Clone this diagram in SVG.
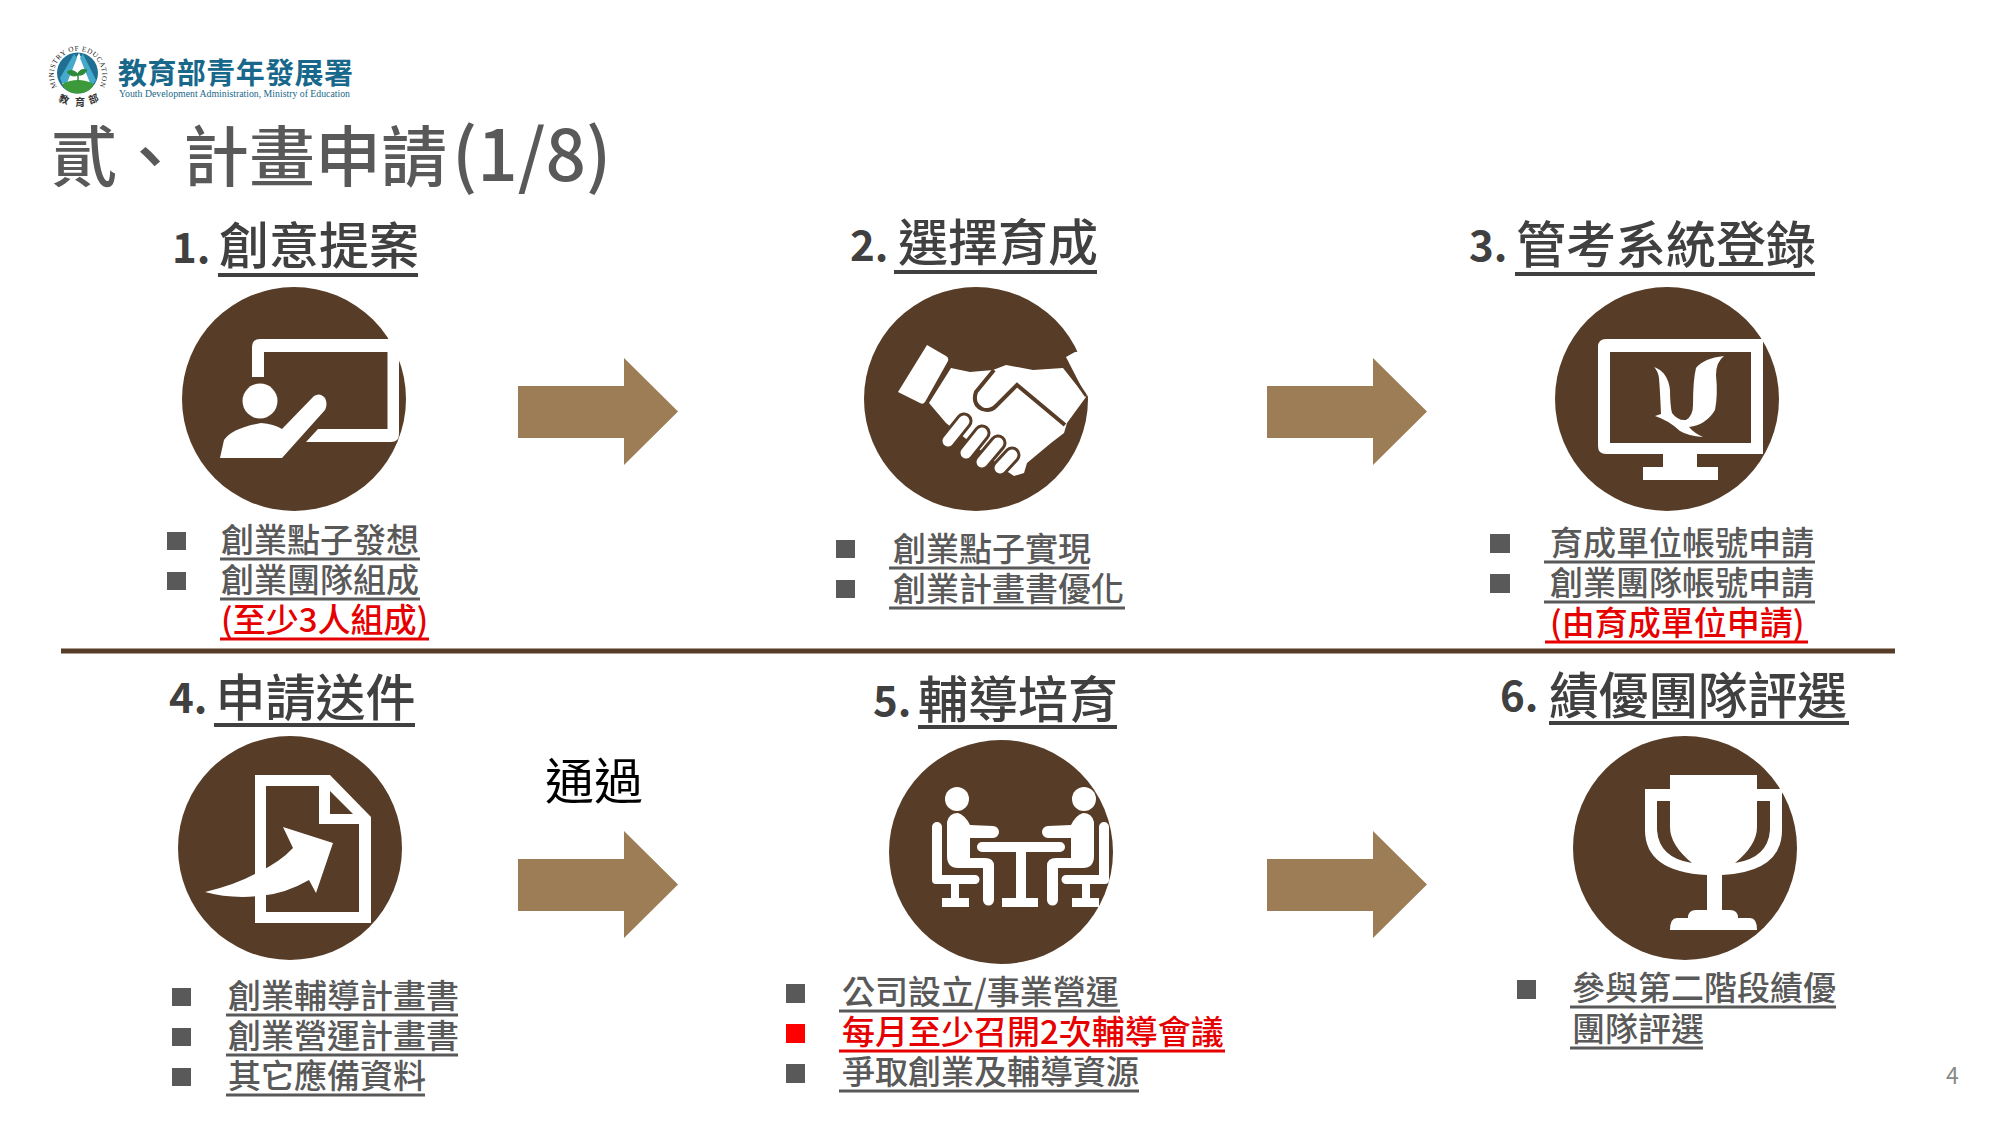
<svg xmlns="http://www.w3.org/2000/svg" xmlns:xlink="http://www.w3.org/1999/xlink" width="2000" height="1125" viewBox="0 0 2000 1125">
<style>
text{font-family:"Noto Sans CJK TC","Noto Sans",sans-serif}
.title{font-size:66px;font-weight:500;fill:#595959}
.num{font-size:42px;font-weight:700;fill:#404040}
.hd{font-size:50px;font-weight:500;fill:#404040}
.it{font-size:33px;font-weight:500;fill:#595959}
.red{font-size:33px;font-weight:500;fill:#e60000}
.c{fill:#573c27}
.w{fill:#fff}
.b{fill:#595959}
.uh{stroke:#404040;stroke-width:4}
.ug{stroke:#595959;stroke-width:3}
.ur{stroke:#e60000;stroke-width:3}
.ar{fill:#9c7d55}
</style>
<defs>
<path id="ringTop" d="M57 87A24.200 24.200 0 1 1 99 87"/>
</defs>
<rect width="2000" height="1125" fill="#fff"/>
<g id="logo">
<circle cx="77.500" cy="73" r="20.500" fill="#1f6f93"/>
<path d="M79 53L93 83L90 88H65L62 83Z" fill="#fff"/>
<path d="M74 54L77 58L67 83H62L60 78Z M83 54L80 58L90 83H94L96 80Z" fill="#45a9cc"/>
<path d="M62 84Q78 76 94 84Q90 93.500 77.500 93.500Q66 93.500 62 84Z" fill="#3d9a3a"/>
<path d="M78 82V74Q72 68 67 72Q72 78 78 75Q84 76 87 70Q81 68 78 73Z" fill="#2e8a3a" stroke="#2e8a3a"/>
<text font-size="7.200" fill="#222" textLength="100" style="font-family:'Liberation Serif',serif"><textPath xlink:href="#ringTop">MINISTRY OF EDUCATION</textPath></text>
<text transform="translate(58,101) rotate(20)" font-size="10" font-weight="700" fill="#333">教</text>
<text transform="translate(75,106)" font-size="10" font-weight="700" fill="#333">育</text>
<text transform="translate(90,104) rotate(-20)" font-size="10" font-weight="700" fill="#333">部</text>
<text x="118" y="84" font-size="29" font-weight="700" fill="#17688a" textLength="235">教育部青年發展署</text>
<text x="119" y="97" font-size="11" fill="#17688a" textLength="231" lengthAdjust="spacingAndGlyphs" style="font-family:'Liberation Serif',serif">Youth Development Administration, Ministry of Education</text>
</g>
<text id="title" class="title" x="51" y="181">貳、計畫申請<tspan x="452" font-size="71">(1/8)</tspan></text>
<line id="divider" x1="61" y1="651" x2="1895" y2="651" stroke="#573c27" stroke-width="5"/>
<g id="connectors">
<polygon class="ar" points="518,386 624,386 624,358 678,411.500 624,465 624,438 518,438"/>
<polygon class="ar" points="1267,386 1373,386 1373,358 1427,411.500 1373,465 1373,438 1267,438"/>
<polygon class="ar" points="518,859 624,859 624,831 678,884.500 624,938 624,911 518,911"/>
<polygon class="ar" points="1267,859 1373,859 1373,831 1427,884.500 1373,938 1373,911 1267,911"/>
</g>
<text id="pass-label" x="545" y="799" font-size="49" fill="#000">通過</text>
<g id="node1">
<text class="num" x="172" y="263">1.</text>
<text class="hd" x="219" y="264">創意提案</text>
<line class="uh" x1="218" y1="275" x2="418" y2="275"/>
<circle class="c" cx="294" cy="399" r="112"/>
<path class="w" d="M252 377V347q0-8 8-8H399V434q0 8-8 8H306L318 429H387.500V352H264V377Z"/>
<circle class="w" cx="260" cy="401" r="17.500"/>
<path class="w" d="M220 458L224 440Q232 428 261 423Q274 424 282 429L314 396Q320 392 325 398Q328 404 325 410L282 458Z"/>
<rect class="b" x="167" y="532" width="19" height="18"/>
<rect class="b" x="167" y="572" width="19" height="18"/>
<text class="it" x="221" y="552">創業點子發想</text>
<line class="ug" x1="220" y1="559" x2="420" y2="559"/>
<text class="it" x="221" y="592">創業團隊組成</text>
<line class="ug" x1="220" y1="599" x2="420" y2="599"/>
<text class="red" x="221" y="632">(至少3人組成)</text>
<line class="ur" x1="220" y1="639" x2="429" y2="639"/>
</g>
<g id="node2">
<text class="num" x="850" y="261">2.</text>
<text class="hd" x="898" y="261">選擇育成</text>
<line class="uh" x1="894" y1="272" x2="1097" y2="272"/>
<circle class="c" cx="976" cy="399" r="112"/>
<path class="w" d="M927 345L946 356Q949 358 948 361L925 402Q923 405 920 403L898 392Z"/>
<path class="w" d="M929 403L951 368L970 372L993 370L1006 365L1033 370L1063 368L1086 397L1067 423L1064 433L1051 443L1039 453L1027 463L1024 473L1014 476L1008 472L946 423Z"/>
<path class="w" d="M1075 352L1066 357L1086 396L1112 390L1100 350Z"/>
<path d="M1063 362L1086 396" stroke="#573c27" stroke-width="3" fill="none"/>
<path d="M994 370L976 392Q972 404 982 409Q990 412 996 406L1017 385L1065 425" stroke="#573c27" stroke-width="4" fill="none"/>
<g fill="none" stroke-linecap="round">
<path d="M964 421L948 441M982 433L966 453M998 443L982 462M1012 455L1000 468" stroke="#573c27" stroke-width="17"/>
<path d="M964 421L948 441M982 433L966 453M998 443L982 462M1012 455L1000 468" stroke="#fff" stroke-width="11"/>
</g>
<rect class="b" x="836" y="540" width="19" height="18"/>
<rect class="b" x="836" y="580" width="19" height="18"/>
<text class="it" x="893" y="561">創業點子實現</text>
<line class="ug" x1="889" y1="568" x2="1089" y2="568"/>
<text class="it" x="893" y="601">創業計畫書優化</text>
<line class="ug" x1="889" y1="608" x2="1125" y2="608"/>
</g>
<g id="node3">
<text class="num" x="1469" y="261">3.</text>
<text class="hd" x="1516" y="263" textLength="300">管考系統登錄</text>
<line class="uh" x1="1515" y1="274" x2="1815" y2="274"/>
<circle class="c" cx="1667" cy="399" r="112"/>
<path class="w" fill-rule="evenodd" d="M1606 339H1763V454H1697V467H1718V480H1643V467H1663V454H1606Q1598 454 1598 446V347Q1598 339 1606 339ZM1610 352V443H1751V352Z"/>
<path class="w" d="M1654 367Q1668 372 1670 390Q1670 405 1672 413Q1678 421 1686 420Q1693 416 1693 405Q1693 380 1696 368Q1704 358 1724 356Q1716 362 1716 375Q1718 395 1715 410Q1706 425 1689 427Q1694 433 1703 437Q1688 436 1680 431Q1668 420 1655 416L1661 414Q1660 390 1659 378Q1658 371 1654 367Z"/>
<rect class="b" x="1490" y="534" width="20" height="19"/>
<rect class="b" x="1490" y="574" width="20" height="19"/>
<text class="it" x="1550" y="555">育成單位帳號申請</text>
<line class="ug" x1="1544" y1="562" x2="1815" y2="562"/>
<text class="it" x="1550" y="595">創業團隊帳號申請</text>
<line class="ug" x1="1544" y1="602" x2="1815" y2="602"/>
<text class="red" x="1550" y="635">(由育成單位申請)</text>
<line class="ur" x1="1545" y1="642" x2="1808" y2="642"/>
</g>
<g id="node4">
<text class="num" x="169" y="713">4.</text>
<text class="hd" x="215.500" y="716">申請送件</text>
<line class="uh" x1="214" y1="725" x2="415" y2="725"/>
<circle class="c" cx="290" cy="848" r="112"/>
<path class="w" fill-rule="evenodd" d="M255 775H330L371 817V923H255ZM266 786V912H359V824H319V786ZM330 791V814H353Z"/>
<path class="w" d="M205 892Q235 885 257 873Q280 862 293 848L283 827L333 843L316 893L309 880Q285 894 260 896Q230 899 205 892Z"/>
<rect class="b" x="172" y="988" width="19" height="18"/>
<rect class="b" x="172" y="1028" width="19" height="18"/>
<rect class="b" x="172" y="1068" width="19" height="18"/>
<text class="it" x="228" y="1008">創業輔導計畫書</text>
<line class="ug" x1="226" y1="1015" x2="458" y2="1015"/>
<text class="it" x="228" y="1048">創業營運計畫書</text>
<line class="ug" x1="226" y1="1055" x2="458" y2="1055"/>
<text class="it" x="228" y="1088">其它應備資料</text>
<line class="ug" x1="226" y1="1095" x2="425" y2="1095"/>
</g>
<g id="node5">
<text class="num" x="873" y="716">5.</text>
<text class="hd" x="918" y="718">輔導培育</text>
<line class="uh" x1="918" y1="727" x2="1117" y2="727"/>
<circle class="c" cx="1001" cy="852" r="112"/>
<g id="seated">
<circle class="w" cx="957" cy="799" r="12"/>
<path class="w" d="M947 822Q949 813 958 813Q965 815 970 825L993 826A6 6 0 0 1 993 838H970V858H985Q994 858 994 866V900A5.500 5.500 0 0 1 983 900V868H958Q947 868 947 856Z"/>
<path class="w" d="M932 827A5 5 0 0 1 942 827V875H975A4 4 0 0 1 975 884H959V898H969V907H942V898H951V884H936Q932 884 932 880Z"/>
</g>
<use xlink:href="#seated" transform="translate(2041,0) scale(-1,1)"/>
<path class="w" d="M982 842H1060A5 5 0 0 1 1060 852H1026V898H1038V907H1002V898H1016V852H982A5 5 0 0 1 982 842Z"/>
<rect class="b" x="786" y="984" width="19" height="19"/>
<rect x="786" y="1024" width="19" height="19" fill="#f00"/>
<rect class="b" x="786" y="1064" width="19" height="19"/>
<text class="it" x="842" y="1004">公司設立/事業營運</text>
<line class="ug" x1="839" y1="1011" x2="1120" y2="1011"/>
<text class="red" x="842" y="1044">每月至少召開2次輔導會議</text>
<line class="ur" x1="839" y1="1051" x2="1225" y2="1051"/>
<text class="it" x="842" y="1084">爭取創業及輔導資源</text>
<line class="ug" x1="839" y1="1091" x2="1139" y2="1091"/>
</g>
<g id="node6">
<text class="num" x="1500" y="711">6.</text>
<text class="hd" x="1549" y="714" textLength="298">績優團隊評選</text>
<line class="uh" x1="1549" y1="723" x2="1849" y2="723"/>
<circle class="c" cx="1685" cy="848" r="112"/>
<path class="w" fill-rule="evenodd" d="M1670 775H1757V789H1782V830Q1782 872 1722 875V910H1730Q1738 910 1738 918H1750Q1757 918 1757 930H1670Q1670 918 1677 918H1688Q1688 910 1696 910H1707V875Q1645 872 1645 830V789H1670ZM1657 801V830Q1659 858 1692 863Q1670 845 1670 827V801ZM1770 801H1757V827Q1757 845 1735 863Q1768 858 1770 830Z"/>
<rect class="b" x="1517" y="980" width="19" height="19"/>
<text class="it" x="1572" y="1000">參與第二階段績優</text>
<line class="ug" x1="1570" y1="1007" x2="1836" y2="1007"/>
<text class="it" x="1572" y="1041">團隊評選</text>
<line class="ug" x1="1570" y1="1048" x2="1703" y2="1048"/>
</g>
<text id="page" x="1946" y="1084" font-size="23" fill="#898989">4</text>
</svg>
